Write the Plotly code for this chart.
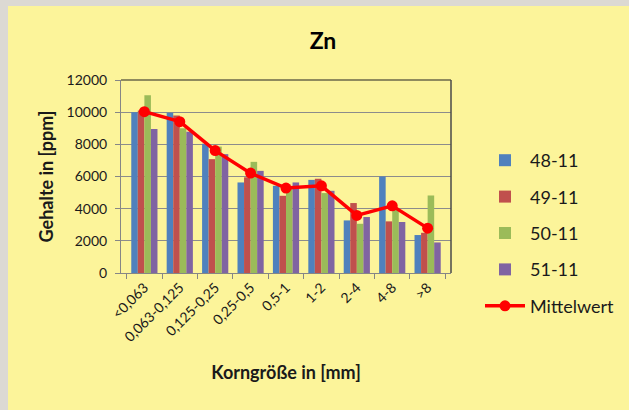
import plotly.graph_objects as go

categories = ["<0,063", "0,063-0,125", "0,125-0,25", "0,25-0,5", "0,5-1", "1-2", "2-4", "4-8", ">8"]
tick_labels = ["&lt;0,063", "0,063-0,125", "0,125-0,25", "0,25-0,5", "0,5-1", "1-2", "2-4", "4-8", "&gt;8"]
s48 = [10000, 9970, 8030, 5630, 5420, 5790, 3270, 6000, 2360]
s49 = [10100, 9800, 7080, 5950, 4800, 5860, 4350, 3210, 2500]
s50 = [11050, 9000, 7860, 6910, 5270, 4970, 3060, 4000, 4820]
s51 = [8950, 8790, 7390, 6350, 5630, 5110, 3480, 3170, 1900]
mittel = [10030, 9410, 7610, 6210, 5280, 5420, 3580, 4180, 2790]

series = [("48-11", s48, "#4F81BD"), ("49-11", s49, "#C0504D"),
          ("50-11", s50, "#9BBB59"), ("51-11", s51, "#8064A2")]

FONT = "Lato"
W, H = 629, 410
L, R, T, B = 121, 451, 80, 273

fig = go.Figure()
for i, (name, vals, col) in enumerate(series):
    fig.add_trace(go.Bar(x=categories, y=vals, name=name, marker_color=col,
                         marker_line_width=0, legendgroup=f"g{i}"))
fig.add_trace(go.Scatter(x=categories, y=mittel, name="Mittelwert", mode="lines+markers",
                         line=dict(color="#FF0000", width=3.5),
                         marker=dict(color="#FF0000", size=11), legendgroup="g4"))

def px_x(p):
    return (p - L) / (R - L)

def px_y(p):
    return (B - p) / (B - T)

shapes = [
    dict(type="rect", xref="paper", yref="paper", x0=px_x(8), x1=px_x(W + 5),
         y0=px_y(H + 5), y1=px_y(6), fillcolor="#FCF49A", line_width=0, layer="below"),
    dict(type="line", xref="paper", yref="paper", x0=0, x1=1, y0=1, y1=1,
         line=dict(color="#222222", width=1)),
    dict(type="line", xref="paper", yref="paper", x0=1, x1=1, y0=0, y1=1,
         line=dict(color="#4a4a4a", width=1.5)),
]

fig.update_layout(
    width=W, height=H,
    margin=dict(l=L, r=W - R, t=T, b=H - B, autoexpand=False),
    paper_bgcolor="#DCD9D3", plot_bgcolor="rgba(0,0,0,0)",
    barmode="group", bargap=0.26, bargroupgap=0,
    font=dict(family=FONT, color="#1a1a1a", size=14),
    title=dict(text="<b>Zn</b>", x=323 / W, xanchor="center", y=1 - 41 / H, yanchor="middle",
               font=dict(size=23, family=FONT, color="#000000")),
    showlegend=True,
    legend=dict(x=480 / W, y=1 - 142 / H, xref="container", yref="container",
                xanchor="left", yanchor="top", maxheight=380,
                font=dict(size=18, family=FONT, color="#1a1a1a"),
                tracegroupgap=10, itemwidth=40, bgcolor="rgba(0,0,0,0)",
                traceorder="grouped"),
    shapes=shapes,
    xaxis=dict(type="category", tickvals=categories, ticktext=tick_labels,
               tickangle=-45, tickfont=dict(size=14, family=FONT),
               showline=True, linecolor="#868686", linewidth=1,
               ticks="outside", ticklen=5, tickcolor="#868686", tickson="boundaries",
               showgrid=False,
               title=dict(text="<b>Korngröße in [mm]</b>", font=dict(size=18, family=FONT),
                          standoff=22)),
    yaxis=dict(range=[0, 12000], dtick=2000, tickformat="d", tickfont=dict(size=14, family=FONT),
               showline=True, linecolor="#868686", linewidth=1,
               ticks="outside", ticklen=5, tickcolor="#868686", ticklabelstandoff=5,
               showgrid=True, gridcolor="#8C8C8C", gridwidth=1,
               zeroline=False,
               title=dict(text="<b>Gehalte in [ppm]</b>", font=dict(size=18, family=FONT),
                          standoff=8)),
)

fig.write_html("out.html", config={"displayModeBar": False},
               post_script="document.body.style.margin='0';document.body.style.overflow='hidden';")
